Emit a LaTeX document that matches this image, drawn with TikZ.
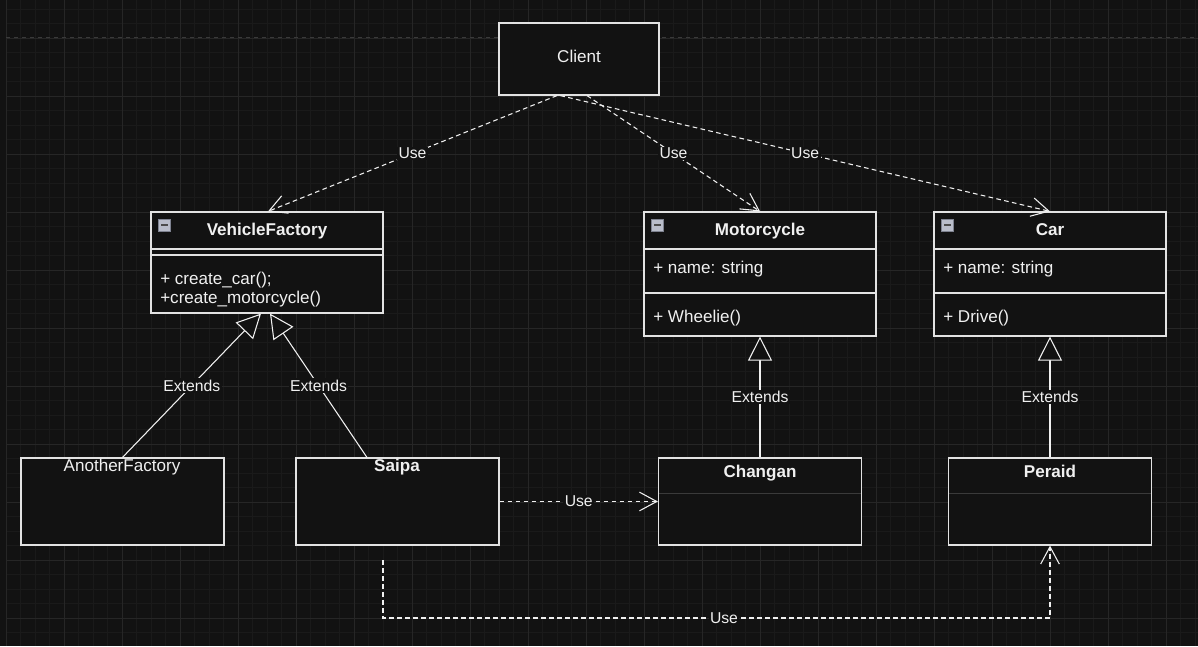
\documentclass[tikz,border=0pt]{standalone}
\usepackage{fontspec}
\setmainfont{Liberation Sans}
\usetikzlibrary{arrows.meta}
\definecolor{bg}{HTML}{121212}
\definecolor{gmin}{HTML}{1A1A1A}
\definecolor{gmaj}{HTML}{262626}
\definecolor{fg}{HTML}{F0F0F0}
\definecolor{bd}{HTML}{E2E2E2}
\definecolor{dim}{HTML}{3A3A3A}
\definecolor{icf}{HTML}{B9BDCA}
\definecolor{icd}{HTML}{7E8290}
\begin{document}
\begin{tikzpicture}[x=0.75pt,y=-0.75pt,
 box/.style={draw=bd, fill=bg, line width=0.9pt, inner sep=0pt, rectangle},
 txt/.style={text=fg, font=\fontsize{12.8}{15}\selectfont, inner sep=0pt, text height=9.3pt, text depth=2.7pt},
 ttl/.style={txt, font=\fontsize{12.8}{15}\selectfont\bfseries},
 mem/.style={txt, anchor=west},
 lbl/.style={text=fg, fill=bg, font=\fontsize{11.8}{14}\selectfont, inner sep=1pt},
 use/.style={draw=fg, line width=0.8pt, dash pattern=on 3.5pt off 2.5pt, -{Straight Barb[length=13pt,width=14pt]}},
 ext/.style={draw=fg, line width=0.8pt, -{Triangle[length=18pt,width=18pt,fill=bg]}},
 sep/.style={draw=bd, line width=0.9pt},
 faint/.style={draw=dim, line width=0.75pt},
 icon/.style={draw=icd, fill=icf, line width=0.6pt, minimum width=9.5pt, minimum height=9pt, inner sep=0pt, rectangle},
 iconbar/.style={draw=black!70, line width=1.3pt}
]
% background and grid
\fill[bg] (0,0) rectangle (1198,646);
\useasboundingbox (0,0) rectangle (1198,646);
\foreach \i in {0,...,82} \draw[gmin, line width=0.6pt] ({6+14.5*\i},0) -- ({6+14.5*\i},646);
\foreach \i in {-2,...,42} \draw[gmin, line width=0.6pt] (6,{38+14.5*\i}) -- (1198,{38+14.5*\i});
\foreach \i in {0,...,20} \draw[gmaj, line width=0.75pt] ({6+58*\i},0) -- ({6+58*\i},646);
\foreach \i in {0,...,10} \draw[gmaj, line width=0.75pt] (6,{38+58*\i}) -- (1198,{38+58*\i});
\draw[dim, line width=0.75pt, dash pattern=on 3pt off 3pt] (6,37.5) -- (1198,37.5);

% Client
\node[box, minimum width=120pt, minimum height=54pt] (Client) at (579,59) {};
\node[txt] (Clientt) at (579,58.5) {Client};

% VehicleFactory
\node[box, minimum width=174pt, minimum height=75.75pt] (VF) at (267,262.5) {};
\draw[sep] (151,249) -- (383,249);
\draw[sep] (151,255) -- (383,255);
\node[icon] (VFi) at (164.5,225) {};
\draw[iconbar] (161,225) -- (168,225);
\node[ttl] (VFt) at (267,231.5) {VehicleFactory};
\node[mem] (VFm1) at (160,280.5) {+ create\_car();};
\node[mem] (VFm2) at (160,299.5) {+create\_motorcycle()};

% Motorcycle
\node[box, minimum width=174pt, minimum height=93pt] (Moto) at (760,274) {};
\draw[sep] (644,249) -- (876,249);
\draw[sep] (644,293) -- (876,293);
\node[icon] (Motoi) at (657.5,225) {};
\draw[iconbar] (654,225) -- (661,225);
\node[ttl] (Motot) at (760,231.5) {Motorcycle};
\node[mem] (Motom1) at (653,269.5) {+ name: string};
\node[mem] (Motom2) at (653,318.5) {+ Wheelie()};

% Car
\node[box, minimum width=174pt, minimum height=93pt] (Car) at (1050,274) {};
\draw[sep] (934,249) -- (1166,249);
\draw[sep] (934,293) -- (1166,293);
\node[icon] (Cari) at (947.5,225) {};
\draw[iconbar] (944,225) -- (951,225);
\node[ttl] (Cart) at (1050,231.5) {Car};
\node[mem] (Carm1) at (943,269.5) {+ name: string};
\node[mem] (Carm2) at (943,318.5) {+ Drive()};

% bottom row
\node[box, minimum width=152.25pt, minimum height=65.25pt] (AF) at (122.5,501.5) {};
\node[txt] (AFt) at (122,467.5) {AnotherFactory};
\node[box, minimum width=152.25pt, minimum height=65.25pt] (Saipa) at (397.5,501.5) {};
\node[ttl] (Saipat) at (397,467.5) {Saipa};
\node[box, minimum width=152.25pt, minimum height=65.25pt] (Changan) at (760,501.5) {};
\draw[faint] (659,493) -- (861,493);
\node[ttl] (Changant) at (760,473.5) {Changan};
\node[box, minimum width=152.25pt, minimum height=65.25pt] (Peraid) at (1050,501.5) {};
\draw[faint] (949,493) -- (1151,493);
\node[ttl] (Peraidt) at (1050,473.5) {Peraid};

% connectors
\draw[use] ([xshift=-16.5pt]Client.south) -- node[lbl] (u1) {Use} ([xshift=0.75pt]VF.north);
\draw[use] ([xshift=-14pt]Client.south) -- node[lbl] (u3) {Use} (Car.north);
\draw[use] ([xshift=6pt]Client.south) -- node[lbl] (u2) {Use} (Moto.north);
\draw[ext] (AF.north) -- node[lbl] (e1) {Extends} ([xshift=-4.5pt]VF.south);
\draw[ext] ([xshift=-22.9pt]Saipa.north) -- node[lbl] (e2) {Extends} ([xshift=2.25pt]VF.south);
\draw[ext] (Changan.north) -- node[lbl] (e3) {Extends} (Moto.south);
\draw[ext] (Peraid.north) -- node[lbl] (e4) {Extends} (Car.south);
\draw[use] (Saipa.east) -- node[lbl] (u4) {Use} (Changan.west);
\coordinate (s2) at (383,560);
\coordinate (c2) at (383,618);
\draw[use] (s2) -- (c2) -| (Peraid.south);
\node[lbl] (u5) at (724,618) {Use};
\end{tikzpicture}
\end{document}
